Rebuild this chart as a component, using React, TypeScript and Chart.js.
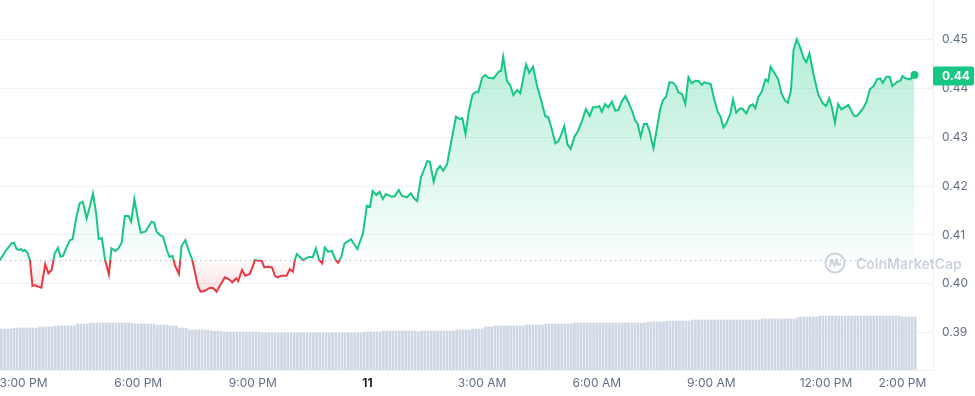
import { useEffect, useRef } from 'react';
import { Chart, registerables } from 'chart.js';

Chart.register(...registerables);

const FONT = 'Inter, "Noto Sans", sans-serif';
const GREEN = '#16c784';
const RED = '#ea3943';

// minutes since 14:23 (day 10)
const TIMES = [
  0, 8, 18, 22, 26, 30, 33, 36, 39, 43,
  47, 51, 55, 60, 65, 71, 76, 81, 84, 86,
  91, 95, 99, 105, 110, 114, 119, 125, 130, 136,
  141, 146, 151, 155, 160, 165, 171, 175, 181, 186,
  191, 196, 202, 206, 211, 216, 221, 228, 233, 238,
  242, 246, 251, 256, 262, 266, 271, 275, 281, 285,
  291, 296, 302, 306, 311, 315, 322, 330, 335, 340,
  346, 353, 359, 365, 371, 374, 380, 385, 392, 397,
  400, 406, 411, 415, 421, 427, 432, 436, 442, 450,
  455, 460, 463, 466, 471, 476, 482, 487, 491, 496,
  501, 506, 510, 515, 521, 527, 531, 536, 541, 551,
  561, 570, 576, 581, 585, 591, 596, 601, 606, 615,
  620, 626, 631, 639, 645, 650, 655, 661, 668, 671,
  675, 681, 686, 691, 696, 702, 709, 716, 722, 726,
  731, 736, 742, 748, 751, 757, 762, 767, 775, 783,
  787, 790, 796, 801, 806, 812, 817, 822, 826, 831,
  837, 843, 851, 856, 861, 866, 872, 877, 882, 886,
  891, 896, 902, 907, 914, 920, 926, 931, 937, 941,
  945, 950, 955, 961, 966, 971, 976, 982, 987, 993,
  997, 1001, 1006, 1011, 1016, 1020, 1026, 1031, 1037, 1041,
  1046, 1051, 1057, 1062, 1065, 1071, 1076, 1081, 1086, 1092,
  1097, 1102, 1106, 1111, 1116, 1121, 1127, 1131, 1136, 1141,
  1147, 1151, 1156, 1162, 1166, 1172, 1177, 1182, 1186, 1191,
  1196, 1202, 1206, 1210, 1217, 1222, 1227, 1232, 1237, 1242,
  1246, 1251, 1256, 1262, 1266, 1271, 1277, 1285, 1292, 1297,
  1302, 1306, 1311, 1316, 1321, 1332, 1341, 1346, 1356, 1361,
  1366, 1372, 1377, 1382, 1386, 1392, 1397, 1401, 1408, 1414,
  1417, 1422, 1429, 1436,
];

const PRICES = [
  0.40487, 0.40656, 0.40828, 0.4084, 0.40712, 0.40691, 0.40712, 0.40671, 0.40691, 0.40636,
  0.40487, 0.39955, 0.39969, 0.39941, 0.3992, 0.40399, 0.40215, 0.40282, 0.40487, 0.40624,
  0.40738, 0.40554, 0.40569, 0.40759, 0.40896, 0.4091, 0.41305, 0.41646, 0.41679, 0.41339,
  0.41577, 0.41851, 0.41442, 0.40916, 0.4093, 0.40487, 0.40194, 0.40726, 0.40671, 0.40726,
  0.4084, 0.41386, 0.41386, 0.4127, 0.41728, 0.41372, 0.41045, 0.41065, 0.41168, 0.4127,
  0.4125, 0.41065, 0.40998, 0.40963, 0.40691, 0.40554, 0.40569, 0.40364, 0.402, 0.40773,
  0.40896, 0.40691, 0.40487, 0.40241, 0.39941, 0.39838, 0.39859, 0.3992, 0.39908, 0.39838,
  0.39975, 0.40133, 0.40098, 0.40031, 0.40112, 0.40057, 0.40282, 0.40166, 0.402, 0.4035,
  0.40487, 0.40472, 0.40472, 0.40337, 0.4035, 0.40337, 0.40159, 0.40133, 0.40166, 0.40166,
  0.40297, 0.40247, 0.40487, 0.40609, 0.40542, 0.40487, 0.40534, 0.40554, 0.40542, 0.40726,
  0.40487, 0.40419, 0.40738, 0.40656, 0.40671, 0.40487, 0.40431, 0.40554, 0.40828, 0.4091,
  0.40712, 0.41033, 0.41597, 0.41577, 0.41898, 0.41816, 0.41883, 0.41734, 0.41836, 0.41781,
  0.41795, 0.41918, 0.41802, 0.41769, 0.41851, 0.41748, 0.41693, 0.42178, 0.42409, 0.42511,
  0.42497, 0.42088, 0.42327, 0.42409, 0.42313, 0.42444, 0.42941, 0.43417, 0.4337, 0.43384,
  0.43063, 0.43519, 0.43875, 0.43928, 0.43916, 0.44215, 0.4427, 0.44215, 0.44202, 0.44337,
  0.44358, 0.44644, 0.44153, 0.44065, 0.43861, 0.43963, 0.43896, 0.44223, 0.44489, 0.44317,
  0.4444, 0.44065, 0.43691, 0.43431, 0.43405, 0.4318, 0.42873, 0.4292, 0.43078, 0.43227,
  0.42853, 0.42757, 0.43008, 0.4311, 0.43335, 0.43575, 0.43431, 0.43609, 0.43609, 0.43636,
  0.43519, 0.43677, 0.43609, 0.43724, 0.4354, 0.43554, 0.43724, 0.43841, 0.43703, 0.43519,
  0.4335, 0.43282, 0.43008, 0.43268, 0.43268, 0.4311, 0.42771, 0.43145, 0.43589, 0.43759,
  0.43826, 0.44121, 0.44112, 0.44031, 0.43916, 0.43881, 0.43677, 0.44223, 0.441, 0.44153,
  0.44147, 0.44065, 0.44121, 0.441, 0.44086, 0.43793, 0.43519, 0.43431, 0.432, 0.43294,
  0.43487, 0.43773, 0.43499, 0.43589, 0.43575, 0.43487, 0.43636, 0.43671, 0.43589, 0.43826,
  0.43928, 0.44182, 0.44133, 0.4444, 0.4429, 0.44182, 0.43896, 0.43759, 0.43703, 0.43963,
  0.44781, 0.45, 0.44849, 0.44611, 0.4453, 0.44714, 0.44305, 0.43861, 0.43691, 0.43636,
  0.43793, 0.43622, 0.43294, 0.43677, 0.43569, 0.43656, 0.43431, 0.43438, 0.43601, 0.43738,
  0.43984, 0.44045, 0.44182, 0.44202, 0.44112, 0.44235, 0.44235, 0.44045, 0.44121, 0.44153,
  0.44249, 0.44202, 0.44182, 0.4427,
];

// previous-close reference line
const BASELINE = 0.4048;

// volume per 5-minute bar (relative units)
const VOLUME = [
  41, 41, 41, 41, 42, 42, 42, 42, 42, 42, 42, 42,
  43, 43, 43, 43, 43, 44, 44, 44, 44, 44, 44, 44,
  46, 46, 46, 46, 47, 47, 47, 47, 47, 47, 47, 47, 47, 47, 47, 47, 47, 47,
  46, 46, 46, 46, 46, 46, 46, 45, 45, 45, 45, 44, 44, 44,
  42, 42, 42, 40, 40, 40, 40, 40, 40, 40, 39, 39, 39, 39,
  38, 38, 38, 38, 38, 38, 38, 38, 38, 38, 38, 38,
  37, 37, 37, 37, 37, 37, 37, 37, 37, 37, 37, 37, 37, 37, 37, 37,
  37, 37, 37, 37, 37, 37, 37, 37, 37, 37, 37, 37, 37, 37, 37, 37,
  38, 38, 38, 38, 38, 38,
  39, 39, 39, 39, 39, 39, 39, 39, 39, 39, 39, 38, 39, 39, 39, 39, 39, 39, 39, 39, 39, 39, 39,
  40, 40, 40, 40, 40, 41, 41, 41, 41, 43, 43, 43,
  44, 44, 44, 44, 44, 44, 44, 44, 44, 44,
  45, 45, 45, 45, 45, 45, 46, 46, 46, 46, 46, 46, 46, 46, 46,
  47, 47, 47, 47, 47, 47, 47, 47, 47, 47, 47, 47, 47, 47, 47, 47, 47, 47, 47, 47, 47, 47, 47,
  48, 48, 48, 48, 48, 48, 49, 49, 49, 49, 49, 49, 49, 49,
  50, 50, 50, 50, 50, 50, 50, 50, 50, 50, 50, 50, 50, 50, 50, 50, 50, 50, 50, 50, 50, 50,
  51, 51, 51, 51, 51, 51, 51, 51, 51, 51, 51, 52,
  53, 53, 53, 53, 53, 53,
  54, 54, 54, 54, 54, 54, 54, 54, 54, 54, 54, 54, 54, 54, 54, 54, 54, 54, 54, 54, 54, 54, 54, 54, 54, 54,
  53, 53, 53, 53, 53,
];
const VOLUME_TIMES = VOLUME.map((_, i) => 2 + i * 5);
const VOL_MAX = 370;

const X_TICKS = [37, 217, 397, 577, 757, 937, 1117, 1297, 1417];
const X_LABELS = ['3:00 PM', '6:00 PM', '9:00 PM', '11', '3:00 AM', '6:00 AM', '9:00 AM', '12:00 PM', '2:00 PM'];
const X_MIN = 0;
const X_MAX = 1465;

const Y_TICKS = [0.39, 0.4, 0.41, 0.42, 0.43, 0.44, 0.45];
const Y_MIN = 0.38237;
const Y_MAX = 0.45804;

const WATERMARK = 'CoinMarketCap';

const overlayPlugin = {
  id: 'overlay',
  beforeDatasetsDraw(chart: any) {
    const { ctx, chartArea, scales } = chart;
    const yb = scales.y.getPixelForValue(BASELINE);
    ctx.save();
    // watermark
    const cx = chartArea.right - 98;
    const cy = chartArea.bottom - 107;
    ctx.strokeStyle = '#cdd3de';
    ctx.lineWidth = 2;
    ctx.beginPath();
    ctx.arc(cx, cy, 9.5, 0, Math.PI * 2);
    ctx.stroke();
    ctx.beginPath();
    ctx.lineJoin = 'round';
    ctx.moveTo(cx - 5.5, cy + 4);
    ctx.lineTo(cx - 3, cy - 3.5);
    ctx.lineTo(cx - 0.5, cy + 3);
    ctx.lineTo(cx + 2, cy - 3.5);
    ctx.lineTo(cx + 3, cy + 2);
    ctx.lineTo(cx + 6, cy + 1);
    ctx.stroke();
    ctx.fillStyle = '#cdd3de';
    ctx.font = `600 14px ${FONT}`;
    ctx.textAlign = 'left';
    ctx.textBaseline = 'middle';
    ctx.fillText(WATERMARK, chartArea.right - 77, cy + 2);
    // dotted baseline
    ctx.strokeStyle = '#a7b0c0';
    ctx.lineWidth = 1;
    ctx.setLineDash([1.2, 3.8]);
    ctx.beginPath();
    ctx.moveTo(chartArea.left, Math.round(yb) + 0.5);
    ctx.lineTo(chartArea.right, Math.round(yb) + 0.5);
    ctx.stroke();
    ctx.restore();
  },
  afterDraw(chart: any) {
    const { ctx, chartArea, scales } = chart;
    const v = PRICES[PRICES.length - 1];
    const y = scales.y.getPixelForValue(v);
    ctx.save();
    ctx.fillStyle = GREEN;
    const x0 = chartArea.right;
    const w = 41;
    const h = 19;
    ctx.beginPath();
    if (ctx.roundRect) ctx.roundRect(x0, y - h / 2 + 1, w, h, 2);
    else ctx.rect(x0, y - h / 2 + 1, w, h);
    ctx.fill();
    ctx.fillStyle = '#ffffff';
    ctx.font = `bold 12px ${FONT}`;
    ctx.textAlign = 'left';
    ctx.textBaseline = 'middle';
    ctx.fillText(v.toFixed(2), x0 + 9, y + 1.5);
    ctx.restore();
  },
};

export default function App() {
  const ref = useRef<HTMLCanvasElement>(null);

  useEffect(() => {
    document.body.style.margin = '0';
    const canvas = ref.current;
    if (!canvas) return;
    const lineData = TIMES.map((t, i) => ({ x: t, y: PRICES[i] }));
    const volData = VOLUME_TIMES.map((t, i) => ({ x: t, y: VOLUME[i] }));
    const last = PRICES.length - 1;

    const chart = new Chart(canvas, {
      type: 'line',
      data: {
        datasets: [
          {
            type: 'line',
            data: lineData,
            yAxisID: 'y',
            borderColor: GREEN,
            borderWidth: 2,
            tension: 0,
            pointRadius: (c: any) => (c.dataIndex === last ? 4 : 0),
            pointHoverRadius: 0,
            pointBackgroundColor: GREEN,
            pointBorderColor: GREEN,
            pointBorderWidth: 0,
            fill: { target: { value: BASELINE }, above: 'rgba(22,199,132,0.15)', below: 'rgba(234,57,67,0.08)' },
            order: 0,
          } as any,
          {
            type: 'bar',
            data: volData,
            yAxisID: 'yVol',
            backgroundColor: '#cfd6e4',
            barThickness: 2,
            order: 1,
          } as any,
        ],
      },
      options: {
        responsive: false,
        animation: false,
        devicePixelRatio: 1,
        events: [],
        layout: { padding: 0, autoPadding: false },
        plugins: { legend: { display: false }, tooltip: { enabled: false } },
        scales: {
          x: {
            type: 'linear',
            position: 'bottom',
            min: X_MIN,
            max: X_MAX,
            offset: false,
            grid: { display: false, drawTicks: false, offset: false },
            border: { display: true, color: '#eff2f5' },
            afterBuildTicks: (s: any) => {
              s.ticks = X_TICKS.map((v) => ({ value: v }));
            },
            afterFit: (s: any) => {
              s.height = 26;
              s.paddingLeft = 0;
              s.paddingRight = 0;
            },
            ticks: {
              autoSkip: false,
              maxRotation: 0,
              padding: 6,
              callback: (_v: any, i: number) => X_LABELS[i],
              color: (c: any) => (X_LABELS[c.index] === '11' ? '#222531' : '#616e85'),
              font: (c: any) => ({ family: FONT, size: 12, weight: X_LABELS[c.index] === '11' ? 'bold' : 'normal' }),
            },
          },
          y: {
            type: 'linear',
            position: 'right',
            min: Y_MIN,
            max: Y_MAX,
            grid: { color: '#eff2f5', drawTicks: false },
            border: { display: true, color: '#eff2f5' },
            afterBuildTicks: (s: any) => {
              s.ticks = Y_TICKS.map((v) => ({ value: v }));
            },
            afterFit: (s: any) => {
              s.width = 42;
              s.paddingTop = 0;
              s.paddingBottom = 0;
            },
            ticks: {
              padding: 9,
              color: '#616e85',
              font: { family: FONT, size: 12 },
              callback: (v: any) => Number(v).toFixed(2),
            },
          },
          yVol: { type: 'linear', display: false, min: 0, max: VOL_MAX },
        },
      } as any,
      plugins: [overlayPlugin],
    });

    // gradients depend on the laid-out scales
    const area = chart.chartArea;
    const ys = chart.scales.y;
    const yb = ys.getPixelForValue(BASELINE);
    const ctx = chart.ctx;
    const f = Math.min(1, Math.max(0, (yb - area.top) / (area.bottom - area.top)));
    const stroke = ctx.createLinearGradient(0, area.top, 0, area.bottom);
    stroke.addColorStop(0, GREEN);
    stroke.addColorStop(f, GREEN);
    stroke.addColorStop(f, RED);
    stroke.addColorStop(1, RED);
    const up = ctx.createLinearGradient(0, ys.getPixelForValue(0.45), 0, yb);
    up.addColorStop(0, 'rgba(22,199,132,0.32)');
    up.addColorStop(1, 'rgba(22,199,132,0.02)');
    const down = ctx.createLinearGradient(0, yb, 0, ys.getPixelForValue(0.398));
    down.addColorStop(0, 'rgba(234,57,67,0.02)');
    down.addColorStop(1, 'rgba(234,57,67,0.16)');
    const ds: any = chart.data.datasets[0];
    ds.borderColor = stroke;
    ds.fill = { target: { value: BASELINE }, above: up, below: down };
    chart.update();

    return () => chart.destroy();
  }, []);

  return (
    <div style={{ width: 975, height: 396, position: 'relative' }}>
      <canvas ref={ref} width={975} height={396} style={{ display: 'block', width: 975, height: 396 }} />
    </div>
  );
}
